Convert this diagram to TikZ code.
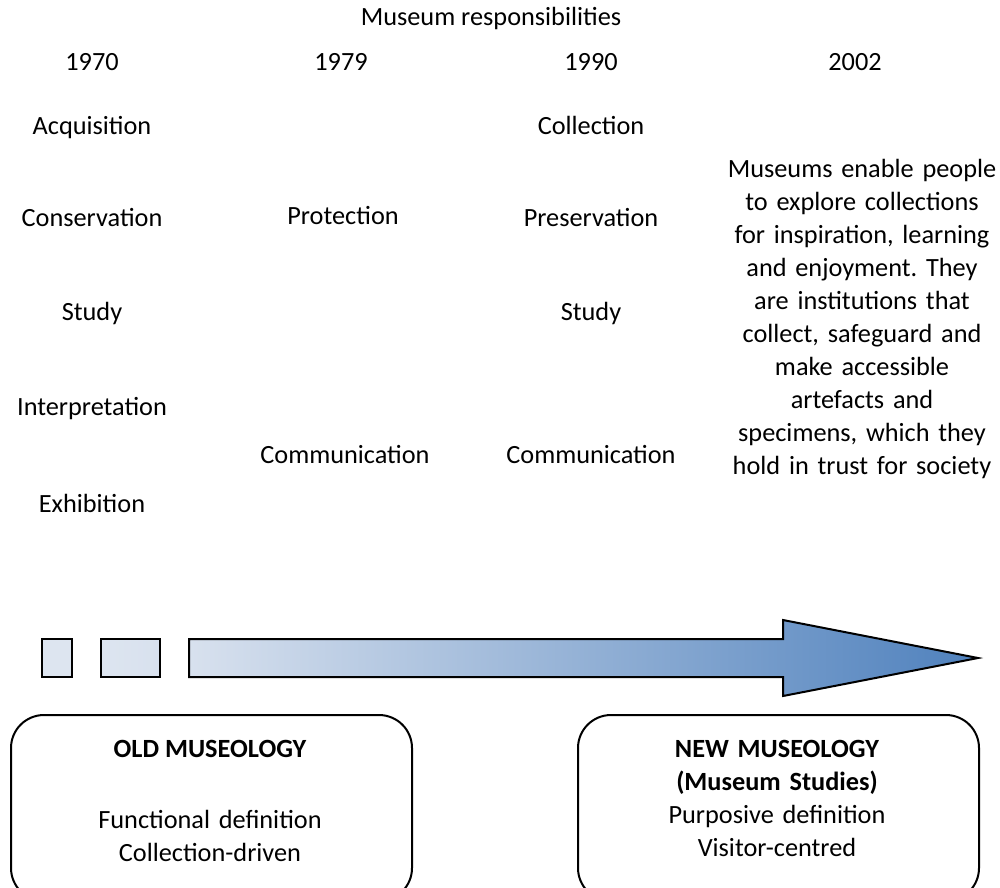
\documentclass[tikz,border=0pt]{standalone}
\usepackage{fontspec}
\setmainfont{Carlito}
\frenchspacing
\definecolor{shadelight}{RGB}{216,225,238}
\definecolor{shadepale}{RGB}{221,229,240}
\definecolor{shadedark}{RGB}{79,129,189}
\begin{document}
\begin{tikzpicture}[x=1pt,y=-1pt,
  lbl/.style={anchor=base, inner sep=0pt, font=\fontsize{26.3}{33}\selectfont},
  para/.style={lbl, text width=330pt, align=center},
  bar/.style={draw=black, line width=2pt},
  panel/.style={draw=black, line width=2pt, rounded corners=33pt, inner sep=0pt,
                anchor=north west, minimum width=401pt, minimum height=186pt}]
\useasboundingbox (0,0) rectangle (1000,887);
\clip (0,0) rectangle (1000,887);

% heading and years
\node[lbl] (title) at (491,25) {Museum responsibilities};
\node[lbl] (y1970) at (92,70) {1970};
\node[lbl] (y1979) at (341,70) {1979};
\node[lbl] (y1990) at (591,70) {1990};
\node[lbl] (y2002) at (855,70) {2002};

% 1970 column
\node[lbl] (acq)     at (92,134) {Acquisition};
\node[lbl] (cons)    at (92,226) {Conservation};
\node[lbl] (study70) at (92,320) {Study};
\node[lbl] (interp)  at (92,415) {Interpretation};
\node[lbl] (exhib)   at (92,512) {Exhibition};

% 1979 column
\node[lbl] (prot)   at (343,224) {Protection};
\node[lbl] (comm79) at (345,463) {Communication};

% 1990 column
\node[lbl] (coll)    at (591,134) {Collection};
\node[lbl] (pres)    at (591,226) {Preservation};
\node[lbl] (study90) at (591,320) {Study};
\node[lbl] (comm90)  at (591,463) {Communication};

% 2002 definition
\node[para] (def02) at (862,177) {Museums enable people\\to explore collections\\for inspiration, learning\\and enjoyment. They\\are institutions that\\collect, safeguard and\\make accessible\\artefacts and\\specimens, which they\\hold in trust for society};

% timeline blocks and arrow
\path[bar, fill=shadepale] (42,639) rectangle (72,677);
\path[bar, left color=shadepale, right color=shadelight] (101,639) rectangle (160,677);
\path[bar, left color=shadelight, right color=shadedark]
  (189,639) -- (783,639) -- (783,620) -- (978,658) -- (783,696) -- (783,677) -- (189,677) -- cycle;

% museology panels
\node[panel] (oldbox) at (10,714) {};
\node[panel] (newbox) at (577,714) {};
\node[lbl] (oldhead) at (210,757) {\bfseries OLD MUSEOLOGY};
\node[para] (oldtxt) at (210,828) {Functional definition\\Collection-driven};
\node[para] (newtxt) at (777,757) {\textbf{NEW MUSEOLOGY}\\\textbf{(Museum Studies)}\\Purposive definition\\Visitor-centred};
\end{tikzpicture}
\end{document}
